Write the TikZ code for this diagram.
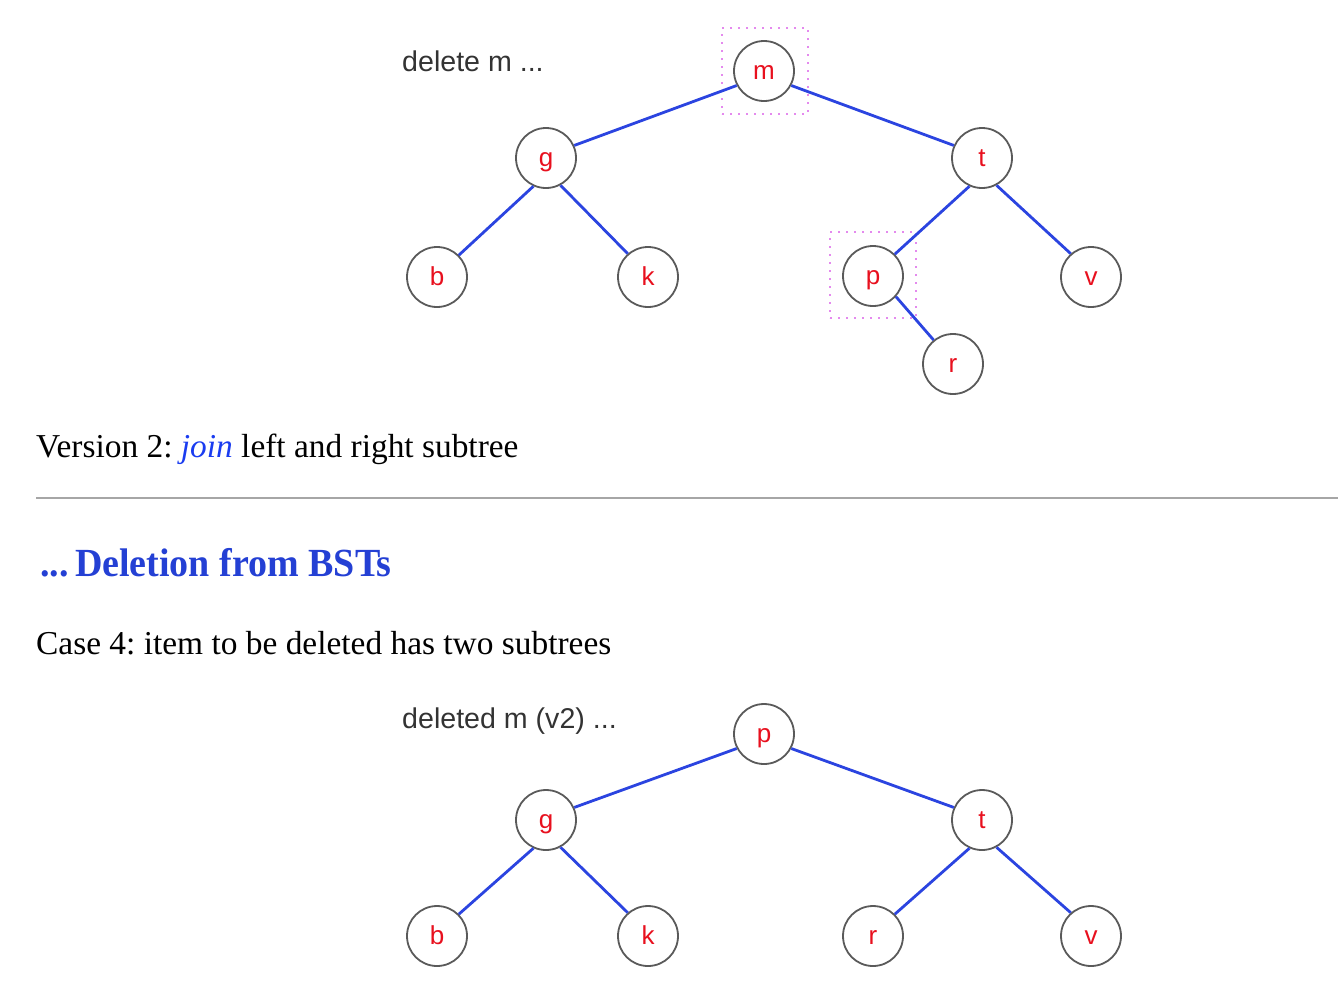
\documentclass[tikz,border=0pt]{standalone}
\usepackage{fontspec}
\setmainfont{Liberation Serif}
\setsansfont{Liberation Sans}
\usepackage{xcolor}
\usepackage{tikz}
\usetikzlibrary{positioning}
\definecolor{edgeblue}{HTML}{2B44E0}
\definecolor{keyred}{HTML}{E8101E}
\definecolor{boxpink}{HTML}{E48AEE}
\definecolor{headblue}{HTML}{2440D4}
\definecolor{joinblue}{HTML}{1A3CF0}
\definecolor{circgray}{HTML}{5A5A5A}
\frenchspacing

\begin{document}
\begin{tikzpicture}[x=1pt,y=-1pt,
  key/.style={circle,draw=circgray,line width=1.8pt,fill=white,minimum size=60pt,inner sep=0pt,text height=17pt,text depth=0pt,text=keyred,font=\sffamily\fontsize{26}{26}\selectfont},
  link/.style={edgeblue,line width=2.8pt},
  selbox/.style={rectangle,draw=boxpink,dash pattern=on 2pt off 6pt,line width=2pt,minimum size=86pt,inner sep=0pt},
  note/.style={anchor=base west,inner sep=0pt,text=black!80,font=\sffamily\fontsize{28.6}{28}\selectfont},
  prose/.style={anchor=base west,inner sep=0pt,font=\fontsize{33.4}{40}\selectfont},
  headline/.style={anchor=base west,inner sep=0pt,text=headblue,font=\bfseries\fontsize{38}{40}\selectfont}]
\useasboundingbox (0,0) rectangle (1338,986);

% tree before the delete
\node[note] (title1) at (402,71) {delete m ...};
\node[key] (m) at (764,71) {m};
\node[key] (g) at (546,158) {g};
\node[key] (t) at (982,158) {t};
\node[key] (b) at (437,277) {b};
\node[key] (k) at (648,277) {k};
\node[key] (p) at (873,276) {p};
\node[key] (v) at (1091,277) {v};
\node[key] (r) at (953,364) {r};
\node[selbox] (mbox) at (765,71) {}; % marks the item to delete
\node[selbox] (pbox) at (873,275) {}; % marks its successor
\draw[link] (m.208) -- (g.24);
\draw[link] (m.332) -- (t.156);
\draw[link] (g.246) -- (b.45);
\draw[link] (g.298) -- (k.131);
\draw[link] (t.246) -- (p.45);
\draw[link] (t.298) -- (v.131);
\draw[link] (p.318) -- (r.129);

\node[prose] (vers) at (36,457) {Version 2: {\color{joinblue}\itshape join} left and right subtree};
\draw[gray!70,line width=2pt] (36,498) -- (1338,498); % page rule

\node[headline] (head) at (40,576) {\scalebox{1}[1.05]{...\,Deletion from BSTs}};
\node[prose] (case) at (36,654) {Case 4: item to be deleted has two subtrees};

% tree after the delete
\node[note] (title2) at (402,728) {deleted m (v2) ...};
\node[key] (p2) at (764,734) {p};
\node[key] (g2) at (546,820) {g};
\node[key] (t2) at (982,820) {t};
\node[key] (b2) at (437,936) {b};
\node[key] (k2) at (648,936) {k};
\node[key] (r2) at (873,936) {r};
\node[key] (v2) at (1091,936) {v};
\draw[link] (p2.208) -- (g2.24);
\draw[link] (p2.332) -- (t2.156);
\draw[link] (g2.246) -- (b2.45);
\draw[link] (g2.298) -- (k2.131);
\draw[link] (t2.246) -- (r2.45);
\draw[link] (t2.298) -- (v2.131);
\end{tikzpicture}
\end{document}
